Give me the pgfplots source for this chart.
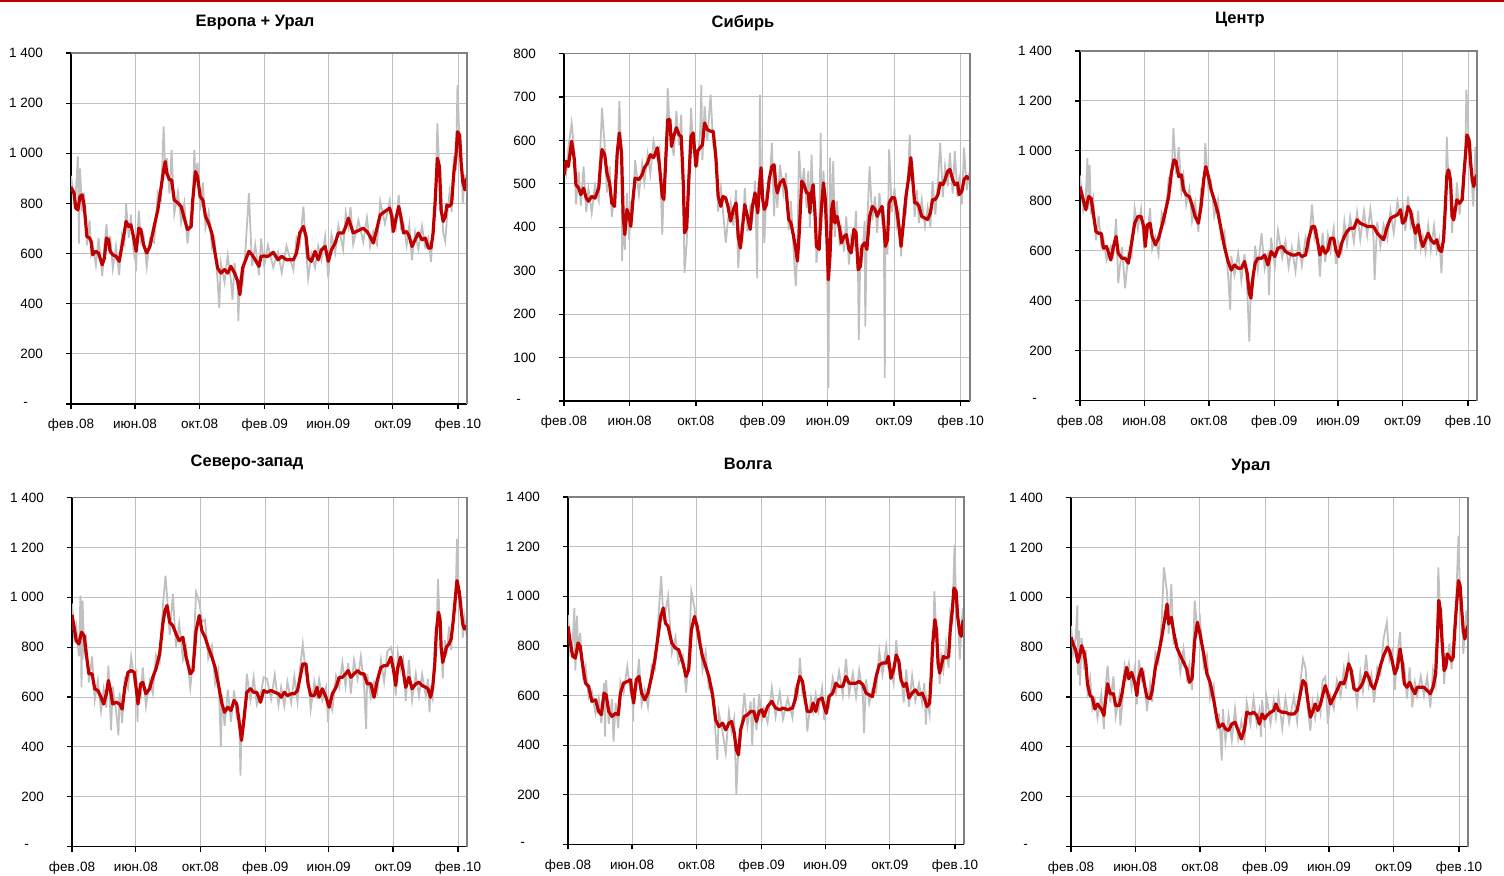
\documentclass[border=0pt]{standalone}
\usepackage{pgfplots}
\pgfplotsset{compat=1.18}
\usepackage{fontspec}
\setmainfont{Liberation Sans}
\definecolor{redc}{HTML}{C00000}
\definecolor{grayc}{HTML}{C0C0C0}
\definecolor{gridc}{HTML}{C0C0C0}
\definecolor{borderc}{HTML}{808080}
\newcommand{\ticksize}{\fontsize{6.75}{8}\selectfont}
\newcommand{\titlesize}{\fontsize{8.25}{10}\selectfont\bfseries}
\pgfplotsset{
  panel/.style={scale only axis, anchor=south west, xmin=0, xmax=748, ymin=0,
    axis x line*=bottom, axis y line*=left,
    axis line style={-,black,line width=0.6pt},
    xtick={0,121,243,366,486,608,731},
    xticklabels={фев\kern0.8pt.08,июн.08,окт.08,фев\kern0.8pt.09,июн.09,окт.09,фев\kern0.8pt.10},
    tick align=outside, major tick length=2.5pt,
    tick style={black,line width=0.6pt},
    xmajorgrids, ymajorgrids, major grid style={gridc,line width=0.5pt},
    tick label style={font=\ticksize},
    yticklabel style={xshift=-8pt},
    xticklabel style={text height=5.2pt, text depth=1.5pt, yshift=-1.2pt},
    clip mode=individual},
  wide/.style={ymax=1400, ytick={0,200,...,1400},
    yticklabels={-\kern7.5pt,200,400,600,800,1~000,1~200,1~400}},
  gline/.style={color=grayc, line width=0.9pt, no marks},
  rline/.style={color=redc, line width=1.6pt, no marks, line join=round},
}
\newcommand{\border}{\draw[borderc,line width=0.75pt] (rel axis cs:0,1) -- (rel axis cs:1,1) -- (rel axis cs:1,0);}
\begin{document}
\begin{tikzpicture}
\useasboundingbox (0,0) rectangle (752pt,438pt);
\fill[redc] (0,437pt) rectangle (752pt,438pt);
% ---------- Panel 1
\begin{axis}[panel, wide, at={(35.5pt,236pt)}, width=198pt, height=175.5pt]
\addplot[gline] coordinates {(0,910)(6,800)(9,841)(13,987)(15,640)(17,940)(21,769)(25,843)(30,633)(35,732)(38,603)(41,635)(47,554)(52,662)(59,510)(63,622)(67,717)(71,610)(74,669)(79,540)(85,629)(91,514)(96,673)(101,638)(104,798)(109,663)(113,755)(118,613)(123,554)(128,771)(132,650)(137,675)(143,547)(149,658)(157,643)(164,844)(170,816)(175,1106)(178,927)(181,980)(186,839)(190,1013)(195,759)(202,846)(208,723)(214,801)(220,640)(227,763)(230,779)(233,1013)(235,892)(239,962)(244,772)(249,884)(254,703)(260,766)(266,627)(271,660)(277,487)(280,383)(283,562)(290,486)(296,592)(302,494)(305,416)(309,562)(315,454)(316,330)(319,496)(324,477)(330,630)(336,841)(342,550)(348,635)(355,514)(359,659)(365,550)(372,634)(382,545)(391,605)(398,524)(407,630)(420,535)(426,662)(432,632)(439,788)(444,613)(448,502)(454,599)(461,544)(467,630)(473,575)(480,668)(486,502)(492,675)(499,602)(505,712)(514,617)(519,763)(524,706)(528,785)(533,637)(543,732)(552,646)(559,743)(565,628)(571,687)(578,636)(584,809)(593,719)(602,811)(606,683)(609,743)(614,706)(619,834)(623,703)(628,722)(634,633)(639,713)(644,573)(650,685)(656,617)(663,710)(669,627)(675,662)(680,567)(684,727)(688,774)(692,1119)(696,912)(699,844)(703,683)(707,648)(710,739)(715,843)(719,766)(723,990)(727,932)(730,1272)(734,1028)(737,1000)(740,801)(744,914)(747,860)};
\addplot[rline] coordinates {(0,865)(6,840)(9,781)(13,774)(17,828)(21,834)(25,788)(30,668)(35,662)(38,648)(41,595)(47,609)(52,602)(59,555)(63,582)(67,662)(71,655)(74,609)(79,595)(85,589)(91,569)(96,628)(101,688)(104,728)(109,708)(113,715)(118,668)(123,609)(128,701)(132,695)(137,635)(143,602)(149,628)(157,708)(164,774)(170,861)(175,934)(178,967)(181,920)(186,894)(190,894)(195,814)(202,801)(208,788)(214,741)(220,695)(227,708)(230,814)(235,927)(239,907)(244,827)(249,814)(254,748)(260,721)(266,682)(271,615)(277,542)(283,522)(290,536)(296,522)(302,549)(309,522)(315,489)(319,436)(324,542)(330,575)(336,609)(342,595)(348,575)(355,549)(359,589)(365,590)(372,589)(382,605)(391,575)(398,589)(407,575)(420,575)(426,602)(432,682)(439,708)(444,668)(448,582)(454,569)(461,609)(467,575)(473,615)(480,628)(486,569)(492,615)(499,642)(505,682)(514,682)(519,708)(524,741)(528,715)(533,682)(543,692)(552,701)(559,688)(565,668)(571,642)(578,701)(584,754)(593,768)(602,781)(606,748)(609,688)(614,741)(619,788)(623,748)(628,682)(634,688)(639,668)(644,628)(650,655)(656,682)(663,655)(669,662)(675,622)(680,622)(684,682)(688,814)(692,980)(696,947)(699,774)(703,728)(707,748)(710,794)(715,788)(719,801)(723,920)(727,987)(730,1086)(734,1073)(737,960)(740,887)(744,854)(747,900)};
\border
\end{axis}
% ---------- Panel 2
\begin{axis}[panel, at={(282pt,237.5pt)}, width=203pt, height=173.75pt,
  ymax=800, ytick={0,100,...,800}, yticklabels={-\kern7.5pt,100,200,300,400,500,600,700,800}]
\addplot[gline] coordinates {(0,550)(4,524)(8,582)(14,640)(19,576)(22,453)(27,528)(31,450)(36,540)(41,435)(45,488)(51,433)(57,497)(64,462)(67,582)(70,675)(75,587)(79,480)(84,540)(88,424)(93,476)(98,533)(102,690)(106,546)(107,322)(109,455)(112,348)(116,479)(120,372)(123,452)(127,439)(131,555)(138,475)(144,546)(148,502)(154,568)(159,522)(165,598)(172,558)(176,580)(181,383)(184,492)(188,533)(191,721)(195,620)(198,606)(202,564)(207,667)(212,588)(216,659)(220,462)(222,295)(226,363)(230,530)(234,675)(238,580)(243,570)(246,540)(251,625)(253,728)(255,555)(259,678)(264,600)(270,705)(275,589)(280,584)(284,436)(289,490)(293,436)(298,364)(302,416)(307,456)(312,403)(317,486)(321,306)(325,394)(329,374)(333,490)(338,390)(343,445)(347,420)(352,507)(356,283)(357,470)(360,524)(361,705)(363,500)(366,506)(369,364)(373,482)(378,482)(383,594)(387,425)(390,526)(393,444)(398,544)(404,478)(409,525)(414,393)(418,460)(423,347)(427,264)(430,350)(433,575)(438,481)(442,536)(447,444)(450,529)(453,401)(456,567)(459,466)(463,446)(465,318)(470,390)(473,617)(474,406)(478,530)(481,436)(484,437)(487,30)(490,560)(493,403)(496,552)(499,378)(503,460)(508,357)(511,394)(516,344)(520,425)(525,314)(529,379)(534,357)(538,437)(542,270)(543,141)(546,340)(549,328)(554,414)(555,172)(558,390)(563,540)(568,416)(573,471)(577,387)(581,479)(586,416)(589,440)(591,53)(592,390)(596,337)(599,579)(604,435)(609,490)(613,406)(617,430)(621,333)(626,446)(630,436)(635,550)(637,613)(639,522)(642,540)(646,424)(650,486)(654,410)(659,463)(665,402)(670,446)(675,401)(679,506)(684,429)(689,505)(693,594)(698,470)(702,540)(707,494)(711,571)(716,478)(720,575)(725,470)(728,510)(733,453)(737,583)(742,485)(746,525)};
\addplot[rline] coordinates {(0,520)(4,552)(8,540)(14,598)(19,556)(22,498)(27,490)(31,475)(36,490)(41,467)(45,460)(51,471)(57,467)(64,490)(67,540)(70,579)(75,567)(79,525)(84,502)(88,456)(93,448)(98,571)(102,617)(106,571)(109,425)(112,383)(116,441)(120,425)(123,402)(127,464)(131,513)(138,510)(144,521)(148,537)(154,548)(159,567)(165,560)(172,583)(176,540)(181,471)(184,464)(188,571)(191,648)(195,648)(198,586)(202,609)(207,629)(212,613)(216,609)(220,494)(222,387)(226,398)(230,510)(234,609)(238,617)(243,540)(246,575)(251,583)(255,590)(259,640)(264,625)(270,621)(275,621)(280,556)(284,471)(289,448)(293,471)(298,467)(302,448)(307,414)(312,441)(317,456)(321,379)(325,352)(329,402)(333,452)(338,425)(343,395)(347,448)(352,479)(357,433)(360,494)(363,537)(366,464)(369,441)(373,452)(378,510)(383,540)(387,544)(390,498)(393,479)(398,502)(404,510)(409,487)(414,418)(418,410)(423,379)(427,349)(430,322)(433,379)(438,506)(442,498)(447,479)(450,479)(453,433)(456,479)(459,498)(463,418)(465,356)(470,349)(474,441)(478,502)(481,471)(484,387)(487,279)(490,333)(493,441)(496,460)(499,410)(503,425)(508,395)(511,364)(516,379)(520,383)(525,349)(529,341)(534,395)(538,387)(542,302)(546,310)(549,356)(554,364)(558,349)(563,425)(568,448)(573,441)(577,425)(581,437)(586,448)(589,410)(592,356)(596,372)(599,456)(604,468)(609,468)(613,441)(617,402)(621,356)(626,418)(630,471)(635,514)(639,560)(642,517)(646,456)(650,456)(654,448)(659,425)(665,421)(670,418)(675,433)(679,464)(684,464)(689,475)(693,502)(698,498)(702,510)(707,529)(711,533)(716,510)(720,498)(725,502)(728,475)(733,483)(737,510)(742,517)(746,510)};
\border
\end{axis}
% ---------- Panel 3
\begin{axis}[panel, wide, at={(540pt,237.7pt)}, width=198.5pt, height=174.8pt]
\addplot[gline] coordinates {(0,902)(6,764)(11,824)(14,971)(16,767)(18,944)(21,745)(25,805)(30,642)(35,740)(40,625)(44,650)(50,562)(58,618)(63,582)(68,727)(72,470)(79,615)(85,450)(91,590)(97,575)(103,770)(109,687)(115,767)(120,632)(123,672)(127,664)(132,770)(136,607)(142,654)(148,585)(154,752)(160,715)(167,887)(172,866)(176,1091)(181,907)(186,1017)(191,839)(195,899)(200,784)(206,847)(211,719)(217,792)(223,675)(228,847)(233,839)(236,1031)(242,847)(247,874)(253,739)(260,805)(266,649)(272,677)(279,502)(283,363)(285,578)(291,503)(298,590)(304,480)(310,587)(315,445)(319,236)(322,470)(326,462)(330,620)(335,525)(342,670)(348,528)(354,583)(356,423)(360,652)(367,537)(373,680)(381,572)(387,637)(393,535)(399,613)(406,518)(412,645)(418,542)(425,653)(431,605)(437,784)(442,647)(447,674)(452,497)(457,672)(462,555)(467,663)(472,600)(478,690)(482,548)(487,632)(493,595)(498,717)(503,627)(509,735)(516,635)(522,754)(528,645)(535,759)(541,662)(547,767)(553,652)(555,483)(560,715)(566,617)(572,704)(579,647)(585,760)(591,672)(598,797)(604,729)(608,780)(613,679)(618,817)(623,702)(627,740)(632,605)(637,759)(642,609)(646,657)(651,594)(656,700)(661,604)(667,700)(672,599)(677,648)(681,510)(685,704)(688,714)(691,1057)(694,889)(698,914)(701,672)(704,779)(707,729)(710,874)(715,745)(720,844)(723,842)(726,1007)(728,1244)(733,1009)(736,1021)(739,839)(741,777)(745,1017)(748,859)};
\addplot[rline] coordinates {(0,857)(6,804)(11,764)(16,817)(21,810)(25,750)(30,677)(35,670)(40,670)(44,610)(50,617)(58,563)(63,617)(68,657)(72,590)(79,570)(85,570)(91,550)(97,630)(103,710)(109,737)(115,737)(120,697)(123,617)(127,704)(132,710)(136,657)(142,624)(148,650)(154,697)(160,750)(167,817)(172,911)(177,964)(181,957)(186,897)(191,904)(195,844)(200,824)(206,817)(211,784)(217,737)(223,710)(228,777)(233,884)(237,937)(242,897)(247,844)(253,804)(260,750)(266,684)(272,617)(279,557)(285,523)(291,543)(298,530)(304,530)(310,557)(315,510)(319,430)(322,410)(326,497)(330,550)(335,570)(342,570)(348,583)(354,543)(360,597)(367,577)(373,610)(381,617)(387,597)(393,590)(399,583)(406,583)(412,590)(418,577)(425,583)(431,650)(437,697)(442,697)(447,644)(452,583)(457,617)(462,590)(467,603)(472,650)(478,650)(482,603)(487,577)(493,630)(498,657)(503,677)(509,690)(516,690)(522,724)(528,710)(535,704)(541,697)(547,697)(553,697)(560,670)(566,657)(572,644)(579,697)(585,730)(591,737)(598,744)(604,764)(608,710)(613,724)(618,777)(623,757)(627,710)(632,670)(637,704)(642,644)(646,617)(651,644)(656,670)(661,644)(667,630)(672,644)(677,603)(681,597)(685,644)(688,764)(691,897)(694,924)(698,884)(701,737)(704,724)(707,764)(710,804)(715,790)(720,804)(723,897)(726,977)(729,1064)(733,1044)(736,951)(739,884)(742,857)(745,891)(748,904)};
\border
\end{axis}
% ---------- Panel 4
\begin{axis}[panel, wide, at={(36pt,14.7pt)}, width=197.5pt, height=174.5pt]
\addplot[gline] coordinates {(0,975)(4,840)(8,886)(13,763)(16,1007)(18,639)(20,987)(23,781)(27,828)(32,658)(38,763)(43,588)(49,666)(55,544)(60,632)(65,558)(69,726)(74,466)(77,642)(84,534)(88,446)(90,617)(95,497)(100,669)(106,634)(112,761)(118,664)(122,696)(124,499)(125,612)(130,598)(134,719)(140,563)(147,663)(153,614)(159,768)(166,738)(172,963)(177,1087)(180,1007)(185,850)(191,1013)(197,798)(203,896)(210,750)(216,800)(224,638)(229,736)(235,1020)(241,982)(246,901)(252,910)(258,755)(265,805)(271,654)(277,708)(282,399)(284,607)(289,484)(295,629)(301,501)(307,626)(312,517)(317,522)(319,285)(321,471)(326,479)(331,693)(338,588)(344,679)(350,569)(357,609)(363,679)(369,674)(377,591)(384,689)(391,568)(396,639)(402,564)(408,661)(415,578)(421,683)(427,581)(432,719)(437,813)(443,688)(447,693)(452,551)(459,661)(464,604)(468,669)(474,588)(481,639)(485,499)(487,589)(493,548)(500,684)(506,639)(512,739)(518,643)(523,736)(528,614)(534,748)(541,671)(547,763)(553,648)(557,472)(559,693)(566,598)(572,659)(578,616)(585,749)(591,661)(597,781)(604,800)(609,751)(613,606)(617,779)(622,710)(627,751)(632,584)(638,749)(644,588)(651,693)(657,604)(663,691)(670,604)(674,673)(677,539)(679,629)(683,594)(687,793)(690,821)(693,1073)(697,868)(699,830)(702,674)(706,828)(709,765)(714,883)(718,788)(722,946)(726,945)(729,1234)(733,992)(737,1000)(740,838)(743,918)(747,851)};
\addplot[rline] coordinates {(0,930)(4,880)(8,826)(13,813)(18,860)(23,846)(27,773)(32,693)(38,693)(43,633)(49,626)(55,599)(60,572)(65,613)(69,666)(73,626)(77,572)(84,579)(90,572)(95,552)(100,639)(106,699)(112,706)(118,699)(122,626)(125,572)(130,653)(134,659)(140,613)(147,633)(153,679)(159,713)(166,773)(172,893)(176,947)(180,967)(185,900)(191,886)(197,853)(203,826)(210,840)(216,760)(224,693)(229,706)(235,866)(241,927)(246,866)(252,840)(258,800)(265,760)(271,719)(277,653)(284,572)(289,539)(295,559)(301,546)(307,586)(312,572)(317,492)(321,426)(326,519)(331,619)(338,633)(344,619)(350,619)(357,579)(363,626)(369,619)(377,626)(384,619)(391,613)(396,599)(402,619)(408,606)(415,613)(421,613)(427,626)(432,679)(437,733)(443,733)(447,653)(452,606)(459,606)(464,639)(468,599)(474,633)(481,599)(487,559)(493,613)(500,639)(506,679)(512,679)(518,693)(523,706)(528,679)(534,693)(541,706)(547,693)(553,693)(559,653)(566,653)(572,599)(578,666)(585,719)(591,726)(597,726)(604,760)(609,706)(613,646)(617,719)(622,760)(627,706)(632,639)(638,679)(644,633)(651,653)(657,659)(663,646)(670,639)(674,633)(679,599)(683,639)(687,733)(690,866)(694,940)(697,913)(699,800)(702,739)(706,773)(709,800)(714,813)(718,833)(722,906)(726,1000)(729,1067)(733,1027)(737,947)(740,893)(743,873)(747,886)};
\border
\end{axis}
% ---------- Panel 5
\begin{axis}[panel, wide, at={(284pt,15.75pt)}, width=198pt, height=173.7pt]
\addplot[gline] coordinates {(0,924)(4,778)(9,818)(12,953)(14,701)(17,922)(19,772)(23,853)(28,683)(33,720)(39,592)(45,617)(52,528)(58,591)(63,488)(68,650)(70,435)(72,663)(77,486)(83,586)(86,415)(90,569)(95,468)(99,655)(105,610)(112,717)(118,614)(121,640)(123,496)(124,625)(129,624)(134,747)(139,565)(145,623)(151,555)(158,722)(164,704)(170,893)(176,1081)(180,918)(184,937)(189,1000)(196,772)(203,836)(209,730)(217,761)(223,612)(228,759)(233,1020)(239,954)(244,834)(249,852)(254,703)(260,778)(266,627)(273,633)(279,437)(282,341)(285,530)(292,454)(298,368)(304,534)(309,456)(314,509)(318,200)(322,406)(326,422)(333,610)(339,478)(345,576)(348,402)(351,591)(356,461)(361,606)(366,498)(370,546)(377,491)(385,632)(392,515)(400,613)(406,505)(415,588)(424,510)(429,628)(434,599)(438,751)(443,602)(448,613)(452,455)(459,591)(463,535)(468,606)(473,538)(480,630)(484,501)(488,574)(493,556)(500,670)(506,610)(512,697)(519,602)(525,747)(531,605)(538,690)(544,595)(550,702)(557,604)(559,449)(563,665)(569,568)(575,626)(582,612)(588,779)(594,686)(601,798)(605,713)(610,710)(615,649)(620,824)(625,688)(629,694)(634,572)(639,705)(644,555)(650,680)(656,578)(663,648)(669,570)(673,650)(676,483)(678,586)(683,525)(686,737)(689,767)(692,1020)(696,830)(699,801)(702,646)(705,758)(709,703)(714,811)(719,713)(722,935)(726,901)(730,1208)(733,985)(736,964)(740,745)(743,879)(746,953)(749,851)};
\addplot[rline] coordinates {(0,879)(4,818)(9,758)(14,751)(19,812)(23,798)(28,718)(33,650)(39,637)(45,577)(52,583)(58,536)(63,523)(68,610)(72,603)(77,536)(83,516)(90,529)(95,523)(99,610)(105,650)(112,657)(118,664)(121,610)(124,570)(129,664)(134,677)(139,610)(145,583)(151,610)(158,677)(164,744)(170,838)(175,919)(180,953)(184,892)(189,879)(196,812)(203,791)(209,785)(217,731)(223,677)(228,704)(233,865)(239,919)(244,879)(249,812)(254,758)(260,718)(266,677)(273,603)(279,502)(285,475)(292,489)(298,462)(304,489)(309,496)(314,449)(318,382)(322,361)(326,462)(333,516)(339,523)(345,536)(351,536)(356,496)(361,536)(366,543)(370,516)(377,556)(385,577)(392,550)(400,543)(406,550)(415,543)(424,550)(429,583)(434,644)(438,677)(443,657)(448,583)(452,536)(459,536)(463,570)(468,536)(473,583)(480,590)(484,556)(488,529)(493,596)(500,610)(506,650)(512,637)(519,637)(525,677)(531,650)(538,650)(544,650)(550,657)(557,644)(563,610)(569,603)(575,596)(582,677)(588,724)(594,731)(601,731)(605,758)(610,670)(615,704)(620,764)(625,738)(629,664)(634,637)(639,650)(644,590)(650,610)(656,623)(663,603)(669,610)(673,590)(678,556)(683,570)(686,677)(689,812)(693,906)(696,865)(699,731)(702,691)(705,718)(709,758)(714,751)(719,758)(722,865)(726,946)(729,1034)(733,1020)(736,919)(740,852)(743,839)(746,899)(749,906)};
\border
\end{axis}
% ---------- Panel 6
\begin{axis}[panel, wide, at={(535.5pt,14.7pt)}, width=198.5pt, height=174.5pt]
\addplot[gline] coordinates {(0,885)(4,773)(9,846)(12,967)(13,689)(15,866)(17,646)(20,836)(25,708)(28,788)(31,618)(36,676)(40,554)(45,592)(50,517)(57,612)(62,471)(65,636)(69,726)(74,578)(80,683)(84,521)(91,606)(93,486)(96,558)(101,724)(105,679)(109,733)(114,634)(120,714)(124,571)(128,749)(133,668)(138,693)(143,544)(149,653)(153,581)(159,776)(165,738)(171,910)(175,1120)(181,1018)(184,853)(189,1053)(193,816)(199,830)(206,701)(212,794)(218,678)(223,729)(228,628)(233,987)(238,860)(243,913)(250,723)(256,768)(262,594)(269,646)(275,467)(279,534)(284,345)(286,552)(291,422)(297,526)(303,427)(309,554)(315,431)(321,502)(327,427)(331,579)(338,492)(344,594)(350,491)(355,547)(358,439)(360,589)(365,477)(369,596)(376,494)(382,586)(386,517)(391,606)(398,474)(404,594)(411,497)(420,602)(426,501)(432,658)(437,753)(442,713)(447,537)(451,466)(455,579)(460,517)(465,601)(470,537)(474,666)(479,681)(484,492)(489,602)(495,554)(501,666)(508,604)(514,713)(518,634)(523,753)(528,671)(533,673)(539,571)(545,699)(550,624)(556,769)(561,644)(566,691)(571,578)(577,718)(583,691)(589,836)(595,900)(600,746)(605,781)(610,628)(615,774)(620,860)(624,694)(628,723)(633,594)(638,719)(643,559)(648,658)(652,604)(659,684)(665,604)(671,681)(677,558)(682,709)(687,653)(690,886)(692,1120)(696,912)(699,871)(703,653)(706,759)(709,738)(713,815)(717,711)(720,820)(723,831)(726,1005)(730,1247)(733,1012)(736,1000)(739,773)(742,863)(745,947)(748,840)};
\addplot[rline] coordinates {(0,840)(4,813)(9,786)(13,739)(17,773)(20,806)(25,773)(28,733)(31,653)(36,606)(40,599)(45,552)(50,572)(57,552)(62,526)(65,586)(69,653)(74,613)(80,613)(84,566)(91,566)(96,613)(101,679)(105,719)(109,673)(114,699)(120,659)(124,606)(128,679)(133,713)(138,653)(143,599)(149,593)(153,626)(159,719)(165,773)(171,840)(176,906)(181,973)(184,893)(189,920)(193,866)(199,800)(206,766)(212,739)(218,713)(223,659)(228,673)(233,826)(238,900)(243,853)(250,773)(256,693)(262,659)(269,586)(275,512)(279,479)(286,492)(291,472)(297,466)(303,492)(309,499)(315,466)(321,432)(327,472)(331,539)(338,532)(344,539)(350,526)(355,492)(360,532)(365,512)(369,526)(376,539)(382,546)(386,572)(391,546)(398,539)(404,539)(411,532)(420,532)(426,546)(432,613)(437,666)(442,653)(447,572)(451,519)(455,539)(460,572)(465,546)(470,572)(474,606)(479,646)(484,613)(489,572)(495,599)(501,626)(508,659)(514,653)(518,679)(523,733)(528,706)(533,633)(539,626)(545,639)(550,659)(556,699)(561,679)(566,646)(571,633)(577,673)(583,726)(589,766)(596,800)(600,786)(605,746)(610,693)(615,719)(620,793)(624,739)(628,653)(633,639)(638,659)(643,633)(648,613)(652,639)(659,639)(665,639)(671,626)(677,613)(682,639)(687,693)(690,826)(693,987)(696,947)(699,826)(703,706)(706,719)(709,773)(713,760)(717,746)(720,760)(723,866)(726,960)(730,1067)(733,1047)(736,953)(739,866)(742,833)(745,866)(748,886)};
\border
\end{axis}
% ---------- Titles
\node[font=\titlesize] at (127.5pt,426.5pt) {Европа + Урал};
\node[font=\titlesize] at (371.5pt,426.5pt) {Сибирь};
\node[font=\titlesize] at (620pt,428pt) {Центр};
\node[font=\titlesize] at (123.5pt,207pt) {Северо-запад};
\node[font=\titlesize] at (374pt,206pt) {Волга};
\node[font=\titlesize] at (625.5pt,204.5pt) {Урал};
\end{tikzpicture}
\end{document}
